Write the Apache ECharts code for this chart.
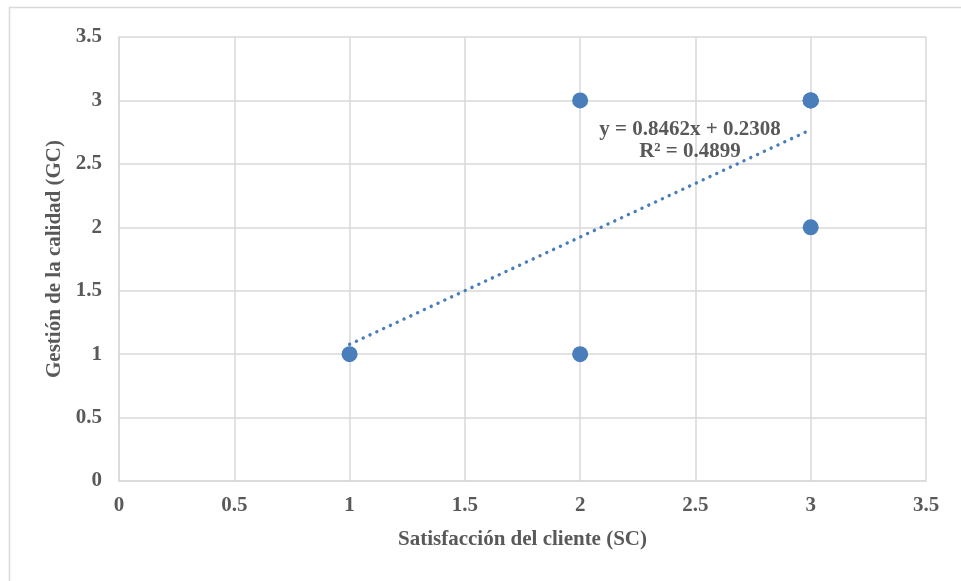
<!DOCTYPE html>
<html>
<head>
<meta charset="utf-8">
<script src="https://cdn.jsdelivr.net/npm/echarts@6/dist/echarts.min.js"></script>
<style>
  html, body { margin: 0; padding: 0; background: #fff; }
  #chart { width: 961px; height: 581px; }
</style>
</head>
<body>
<div id="chart"></div>
<script>
// puntos observados (SC, GC) - (3,3) se repite
var scValues = [1, 2, 2, 3, 3, 3, 3];
var gcValues = [1, 1, 3, 2, 3, 3, 3];
var xTicks = [0, 0.5, 1, 1.5, 2, 2.5, 3, 3.5];
var yTicks = [0, 0.5, 1, 1.5, 2, 2.5, 3, 3.5];

var points = scValues.map(function (x, i) { return [x, gcValues[i]]; });

// regresion lineal de los puntos
var n = points.length, sx = 0, sy = 0, sxy = 0, sxx = 0, syy = 0;
points.forEach(function (p) {
  sx += p[0]; sy += p[1]; sxy += p[0] * p[1]; sxx += p[0] * p[0]; syy += p[1] * p[1];
});
var slope = (n * sxy - sx * sy) / (n * sxx - sx * sx);
var inter = (sy - slope * sx) / n;
var r = (n * sxy - sx * sy) / Math.sqrt((n * sxx - sx * sx) * (n * syy - sy * sy));
var r2 = r * r;
var xMin = Math.min.apply(null, scValues), xMax = Math.max.apply(null, scValues);
var trend = [[xMin, slope * xMin + inter], [xMax, slope * xMax + inter]];

var fontFam = '"Liberation Serif", "Times New Roman", serif';
var txtColor = '#595959';
var fSize = 21;

var myChart = echarts.init(document.getElementById('chart'));
var option = {
  animation: false,
  backgroundColor: '#fff',
  grid: { left: 119, right: 35, top: 37, bottom: 100 },
  graphic: [
    {
      type: 'rect',
      shape: { x: 9.5, y: 7.5, width: 1000, height: 700 },
      style: { fill: 'none', stroke: '#d9d9d9', lineWidth: 1.5 },
      silent: true
    },
    {
      type: 'text',
      x: 690, y: 119,
      z: 10,
      style: {
        text: 'y = ' + slope.toFixed(4) + 'x + ' + inter.toFixed(4) + '\nR² = ' + r2.toFixed(4),
        font: 'bold ' + fSize + 'px ' + fontFam,
        fill: txtColor,
        align: 'center',
        verticalAlign: 'top',
        lineHeight: 22
      }
    }
  ],
  xAxis: {
    type: 'value',
    min: 0, max: 3.5, interval: 0.5,
    name: 'Satisfacción del cliente (SC)',
    nameLocation: 'middle',
    nameGap: 48,
    nameTextStyle: { fontFamily: fontFam, fontWeight: 'bold', fontSize: fSize, color: txtColor },
    axisLine: { show: true, lineStyle: { color: '#d9d9d9', width: 1.5 } },
    axisTick: { show: false },
    axisLabel: {
      fontFamily: fontFam, fontWeight: 'bold', fontSize: fSize, color: txtColor, margin: 14,
      formatter: function (v) { return xTicks.indexOf(v) >= 0 ? String(v) : ''; }
    },
    splitLine: { show: true, lineStyle: { color: '#d9d9d9', width: 1.5 } }
  },
  yAxis: {
    type: 'value',
    min: 0, max: 3.5, interval: 0.5,
    name: 'Gestión de la calidad (GC)',
    nameLocation: 'middle',
    nameGap: 49,
    nameTextStyle: { fontFamily: fontFam, fontWeight: 'bold', fontSize: fSize, color: txtColor },
    axisLine: { show: true, lineStyle: { color: '#d9d9d9', width: 1.5 } },
    axisTick: { show: false },
    axisLabel: {
      fontFamily: fontFam, fontWeight: 'bold', fontSize: fSize, color: txtColor, margin: 17,
      formatter: function (v) { return yTicks.indexOf(v) >= 0 ? String(v) : ''; }
    },
    splitLine: { show: true, lineStyle: { color: '#d9d9d9', width: 1.5 } }
  },
  series: [
    {
      type: 'line',
      data: trend,
      showSymbol: false,
      symbol: 'none',
      lineStyle: { color: '#4a7ebb', width: 3.4, type: [0.1, 7.4], cap: 'round' },
      z: 2
    },
    {
      type: 'scatter',
      data: points,
      symbolSize: 16,
      itemStyle: { color: '#4a7ebb', opacity: 1 },
      z: 3
    }
  ]
};
myChart.setOption(option);
</script>
</body>
</html>
